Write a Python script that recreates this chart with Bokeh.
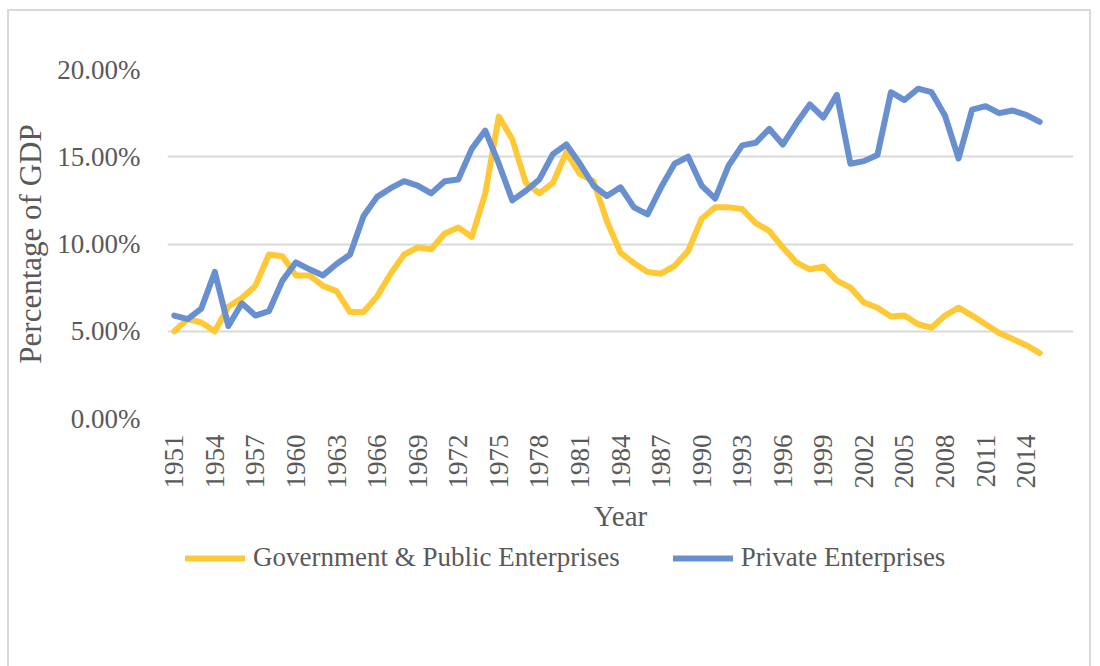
from bokeh.plotting import figure
from bokeh.layouts import column
from bokeh.models import Range1d, FixedTicker, NumeralTickFormatter, Legend, LegendItem, ColumnDataSource
from bokeh.embed import file_html
from bokeh.resources import INLINE
import math

years = list(range(1951, 2016))
gov = [5.0, 5.7, 5.5, 5.0, 6.4, 6.9, 7.6, 9.4, 9.3, 8.2,
       8.2, 7.6, 7.3, 6.1, 6.1, 7.0, 8.3, 9.4, 9.8, 9.7,
       10.6, 10.95, 10.4, 12.9, 17.3, 16.0, 13.5, 12.9, 13.5, 15.25,
       14.0, 13.6, 11.3, 9.5, 8.9, 8.4, 8.3, 8.75, 9.6, 11.45,
       12.1, 12.1, 12.0, 11.2, 10.75, 9.8, 8.95, 8.55, 8.7, 7.9,
       7.5, 6.65, 6.35, 5.85, 5.9, 5.4, 5.2, 5.9, 6.35, 5.9,
       5.4, 4.9, 4.55, 4.2, 3.75]
priv = [5.9, 5.7, 6.3, 8.4, 5.3, 6.6, 5.9, 6.15, 7.9, 8.95,
        8.55, 8.2, 8.85, 9.4, 11.6, 12.7, 13.2, 13.6, 13.35, 12.9,
        13.6, 13.7, 15.45, 16.5, 14.6, 12.5, 13.05, 13.7, 15.15, 15.7,
        14.6, 13.35, 12.75, 13.25, 12.1, 11.7, 13.25, 14.6, 15.0, 13.35,
        12.6, 14.5, 15.65, 15.8, 16.6, 15.7, 16.9, 18.0, 17.25, 18.55,
        14.6, 14.75, 15.1, 18.7, 18.25, 18.9, 18.7, 17.35, 14.9, 17.7,
        17.9, 17.5, 17.65, 17.4, 17.0]
tick_years = list(range(1951, 2015, 3))
y_ticks = [0, 0.05, 0.10, 0.15, 0.20]
series_names = ["Government & Public Enterprises", "Private Enterprises"]
colors = ["#FFC935", "#6890D1"]

src = ColumnDataSource(dict(year=years,
                            gov=[v / 100 for v in gov],
                            priv=[v / 100 for v in priv]))

TXT = "#595959"
FONT = "Liberation Serif"

p = figure(width=1080, height=530, output_backend="svg", toolbar_location=None,
           x_range=Range1d(1950.5, 2017.5), y_range=Range1d(0, 0.2),
           min_border_left=158, min_border_right=16, min_border_top=58,
           min_border_bottom=123)
p.outline_line_color = None
p.background_fill_color = "white"
p.border_fill_color = "white"

p.xgrid.grid_line_color = None
p.ygrid.grid_line_color = "#d9d9d9"
p.ygrid.grid_line_width = 2

p.yaxis.ticker = FixedTicker(ticks=y_ticks)
p.yaxis.formatter = NumeralTickFormatter(format="0.00%")
p.xaxis.ticker = FixedTicker(ticks=tick_years)
p.xaxis.major_label_orientation = math.pi / 2

for ax in (p.xaxis[0], p.yaxis[0]):
    ax.axis_line_color = None
    ax.major_tick_line_color = None
    ax.minor_tick_line_color = None
    ax.major_label_text_font = FONT
    ax.major_label_text_font_size = "27px"
    ax.major_label_text_color = TXT
    ax.axis_label_text_font = FONT
    ax.axis_label_text_color = TXT
    ax.axis_label_text_font_style = "normal"

p.xaxis.axis_label_text_font_size = "29px"
p.yaxis.axis_label_text_font_size = "31px"
p.xaxis.axis_label = "Year"
p.yaxis.axis_label = "Percentage of GDP"
p.yaxis.major_label_standoff = 21
p.xaxis.major_label_standoff = 10
p.xaxis.axis_label_standoff = 8
p.yaxis.axis_label_standoff = 6

p.line("year", "gov", source=src, line_color=colors[0], line_width=6,
       line_join="round", line_cap="round")
p.line("year", "priv", source=src, line_color=colors[1], line_width=6,
       line_join="round", line_cap="round")

# legend strip below the chart (its frame is aligned with the chart's frame)
lg = figure(width=1080, height=125, output_backend="svg", toolbar_location=None,
            x_range=Range1d(0, 1), y_range=Range1d(0, 1),
            x_axis_location=None, y_axis_location=None,
            min_border_left=158, min_border_right=16, min_border_top=0, min_border_bottom=0)
lg.outline_line_color = None
lg.xgrid.grid_line_color = None
lg.ygrid.grid_line_color = None
lg.border_fill_color = "white"
lg.background_fill_color = "white"
# off-range samples: only their legend glyphs are seen
d1 = lg.line(x=[5, 6], y=[5, 5], line_color=colors[0], line_width=6, line_cap="round")
d2 = lg.line(x=[5, 6], y=[5, 5], line_color=colors[1], line_width=6, line_cap="round")

legend = Legend(items=[LegendItem(label=series_names[0], renderers=[d1]),
                       LegendItem(label=series_names[1], renderers=[d2])],
                orientation="horizontal", location=(18, 93))
legend.label_text_font = FONT
legend.label_text_font_size = "27px"
legend.label_text_color = TXT
legend.glyph_width = 60
legend.glyph_height = 30
legend.label_height = 30
legend.label_standoff = 8
legend.spacing = 53
legend.padding = 0
legend.margin = 0
legend.border_line_color = None
legend.background_fill_alpha = 0
lg.add_layout(legend, "center")

layout = column(p, lg, spacing=0)
layout.styles = {"border-top": "2px solid #d9d9d9", "border-left": "2px solid #d9d9d9",
                 "border-right": "2px solid #d9d9d9", "margin": "9px 0 0 7px"}

open("out.html", "w").write(file_html(layout, INLINE))
